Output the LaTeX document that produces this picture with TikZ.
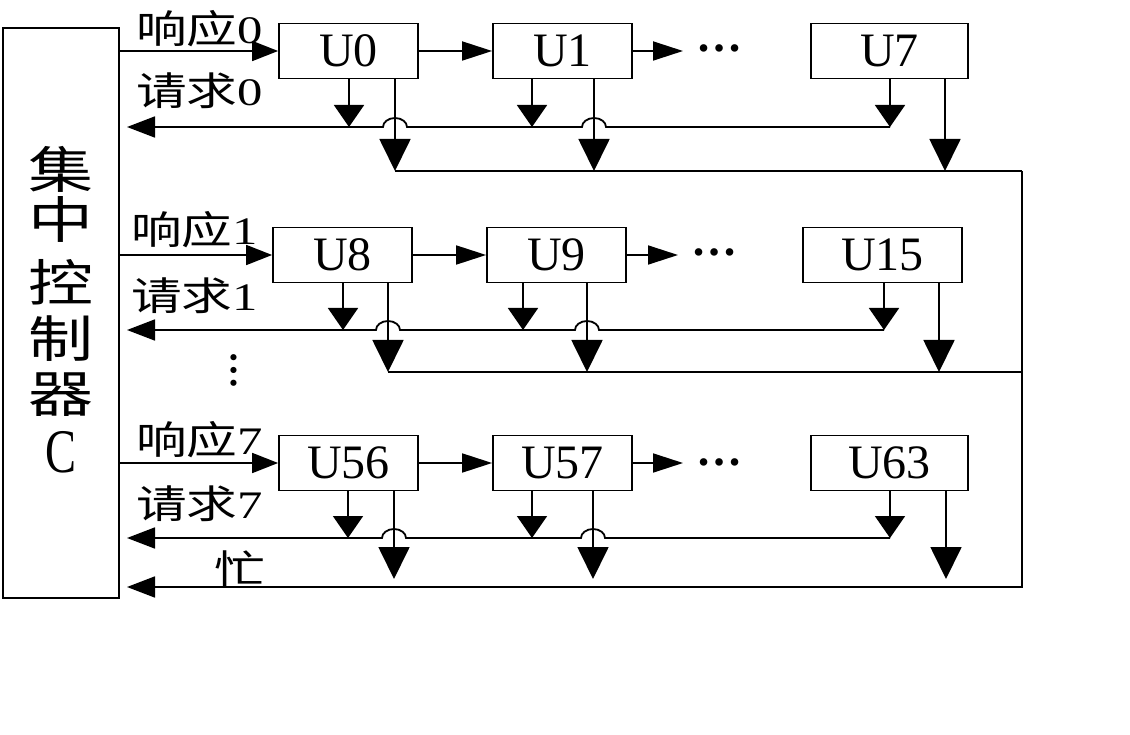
\documentclass[tikz,border=0pt]{standalone}
\usepackage{graphicx}
\usepackage{fontspec}
\setmainfont{Liberation Serif}
\newfontfamily\cjk{Noto Sans CJK SC}
\usetikzlibrary{arrows.meta}
\begin{document}
\begin{tikzpicture}[x=1pt,y=-1pt,
  ln/.style={line width=1.8pt},
  ubox/.style={draw, line width=1.8pt, inner sep=0pt, minimum height=55pt, font=\fontsize{48}{50}\selectfont},
  lbl/.style={inner sep=0pt, anchor=west, font=\fontsize{39}{42}\selectfont},
  cchar/.style={inner sep=0pt, font=\fontsize{50}{52}\selectfont},
  dotsnode/.style={inner xsep=13pt, inner ysep=0pt, anchor=west, font=\bfseries\fontsize{46}{46}\selectfont},
  resparr/.style={ln, -{Triangle[length=26pt,width=20pt]}},
  chainarr/.style={ln, -{Triangle[length=30pt,width=19pt]}},
  reqarr/.style={ln, -{Triangle[length=22pt,width=30pt]}},
  busarr/.style={ln, -{Triangle[length=32pt,width=31pt]}},
  leftarr/.style={ln, -{Triangle[length=28pt,width=21pt]}},
  hop/.style={start angle=0, end angle=180, x radius=12pt, y radius=9pt}
]
\useasboundingbox[fill=white] (0,0) rectangle (1130,735);

% controller
\node[draw, ln, minimum width=116pt, minimum height=570pt, inner sep=0pt] (ctrl) at (61,313) {};
\node[cchar] (c1) at (61,169) {\scalebox{1.3}[1]{\cjk 集}};
\node[cchar] (c2) at (61,219) {\scalebox{1.3}[1]{\cjk 中}};
\node[cchar] (c3) at (61,282) {\scalebox{1.3}[1]{\cjk 控}};
\node[cchar] (c4) at (61,339) {\scalebox{1.3}[1]{\cjk 制}};
\node[cchar] (c5) at (61,395) {\scalebox{1.3}[1]{\cjk 器}};
\node[inner sep=0pt, font=\fontsize{62}{64}\selectfont] (c6) at (61,452) {\scalebox{0.75}[1]{C}};

% boxes
\node[ubox, minimum width=139pt] (u0) at (348.5,51) {U0};
\node[ubox, minimum width=139pt] (u1) at (562.5,51) {U1};
\node[ubox, minimum width=157pt] (u7) at (889.5,51) {U7};
\node[ubox, minimum width=139pt] (u8) at (342.5,255) {U8};
\node[ubox, minimum width=139pt] (u9) at (556.5,255) {U9};
\node[ubox, minimum width=159pt] (u15) at (882.5,255) {U15};
\node[ubox, minimum width=139pt] (u56) at (348.5,463) {U56};
\node[ubox, minimum width=139pt] (u57) at (562.5,463) {U57};
\node[ubox, minimum width=157pt] (u63) at (889.5,463) {U63};

% dots
\node[dotsnode] (d0) at (683,48) {…};
\node[dotsnode] (d1) at (678,252) {…};
\node[dotsnode] (d2) at (683,462) {…};
\node[inner sep=0pt, rotate=90, font=\bfseries\fontsize{38}{38}\selectfont] (vd) at (234,370) {…};

% labels
\node[lbl] (t0a) at (136,29) {\scalebox{1.3}[1]{{\cjk 响应}0}};
\node[lbl] (t0b) at (136,91) {\scalebox{1.3}[1]{{\cjk 请求}0}};
\node[lbl] (t1a) at (131,230) {\scalebox{1.3}[1]{{\cjk 响应}1}};
\node[lbl] (t1b) at (131,296) {\scalebox{1.3}[1]{{\cjk 请求}1}};
\node[lbl] (t2a) at (136,440) {\scalebox{1.3}[1]{{\cjk 响应}7}};
\node[lbl] (t2b) at (136,504) {\scalebox{1.3}[1]{{\cjk 请求}7}};
\node[lbl, anchor=center] (tbusy) at (240,569) {\scalebox{1.3}[1]{\cjk 忙}};

% coordinates
\coordinate (q0a) at (349,127); \coordinate (q0b) at (532,127); \coordinate (q0c) at (890,127);
\coordinate (b0a) at (395,171); \coordinate (b0b) at (594,171); \coordinate (b0c) at (945,171);
\coordinate (q1a) at (343,330); \coordinate (q1b) at (523,330); \coordinate (q1c) at (884,330);
\coordinate (b1a) at (388,372); \coordinate (b1b) at (587,372); \coordinate (b1c) at (939,372);
\coordinate (q2a) at (348,538); \coordinate (q2b) at (532,538); \coordinate (q2c) at (890,538);
\coordinate (b2a) at (394,579); \coordinate (b2b) at (593,579); \coordinate (b2c) at (946,579);
\coordinate (k0) at (1022,171); \coordinate (k1) at (1022,372); \coordinate (k2) at (1022,587);
\coordinate (l0) at (127,127); \coordinate (l1) at (127,330); \coordinate (l2) at (127,538); \coordinate (l3) at (127,587);

% response arrows
\draw[resparr] (ctrl.east |- u0.west) -- (u0.west);
\draw[resparr] (ctrl.east |- u8.west) -- (u8.west);
\draw[resparr] (ctrl.east |- u56.west) -- (u56.west);

% chain arrows
\draw[chainarr] (u0.east) -- (u1.west);
\draw[chainarr] (u1.east) -- (u1.east -| d0.west);
\draw[chainarr] (u8.east) -- (u9.west);
\draw[chainarr] (u9.east) -- (u9.east -| d1.west);
\draw[chainarr] (u56.east) -- (u57.west);
\draw[chainarr] (u57.east) -- (u57.east -| d2.west);

% request down arrows
\draw[reqarr] (u0.south -| q0a) -- (q0a);
\draw[reqarr] (u1.south -| q0b) -- (q0b);
\draw[reqarr] (u7.south -| q0c) -- (q0c);
\draw[reqarr] (u8.south -| q1a) -- (q1a);
\draw[reqarr] (u9.south -| q1b) -- (q1b);
\draw[reqarr] (u15.south -| q1c) -- (q1c);
\draw[reqarr] (u56.south -| q2a) -- (q2a);
\draw[reqarr] (u57.south -| q2b) -- (q2b);
\draw[reqarr] (u63.south -| q2c) -- (q2c);

% bus down arrows
\draw[busarr] (u0.south -| b0a) -- (b0a);
\draw[busarr] (u1.south -| b0b) -- (b0b);
\draw[busarr] (u7.south -| b0c) -- (b0c);
\draw[busarr] (u8.south -| b1a) -- (b1a);
\draw[busarr] (u9.south -| b1b) -- (b1b);
\draw[busarr] (u15.south -| b1c) -- (b1c);
\draw[busarr] (u56.south -| b2a) -- (b2a);
\draw[busarr] (u57.south -| b2b) -- (b2b);
\draw[busarr] (u63.south -| b2c) -- (b2c);

% request lines with hops
\draw[leftarr] (q0c) -- (606,127) arc[hop] -- (407,127) arc[hop] -- (l0);
\draw[leftarr] (q1c) -- (599,330) arc[hop] -- (400,330) arc[hop] -- (l1);
\draw[leftarr] (q2c) -- (605,538) arc[hop] -- (406,538) arc[hop] -- (l2);

% bus lines and busy line
\draw[ln] (b0a) -- (k0);
\draw[ln] (b1a) -- (k1);
\draw[leftarr] (k0) -- (k2) -- (l3);
\end{tikzpicture}
\end{document}
